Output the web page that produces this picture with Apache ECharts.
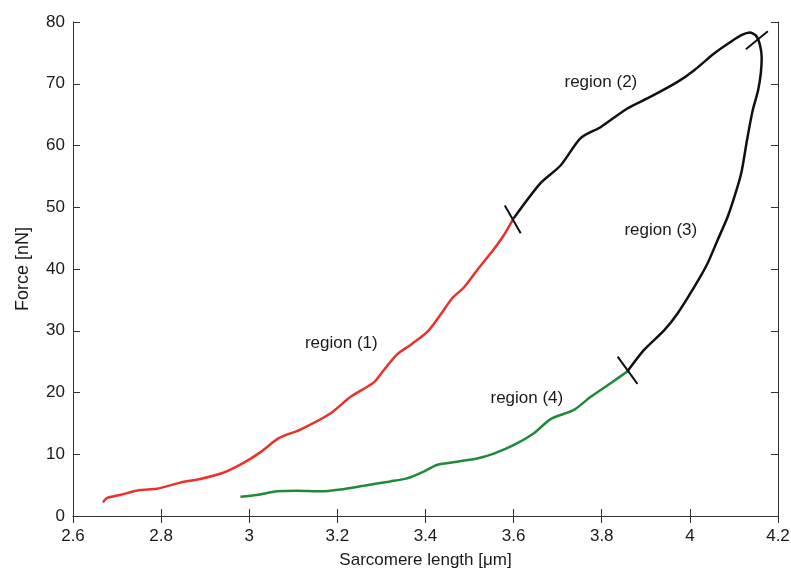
<!DOCTYPE html>
<html>
<head>
<meta charset="utf-8">
<script src="https://cdn.jsdelivr.net/npm/echarts@6/dist/echarts.min.js"></script>
<style>
  html, body { margin: 0; padding: 0; background: #fff; }
  #chart { width: 791px; height: 572px; }
</style>
</head>
<body>
<div id="chart"></div>
<script>
// region (1): loading, red
const region1 = [
  [2.668, 2.2], [2.677, 2.9], [2.707, 3.4], [2.752, 4.2], [2.79, 4.4],
  [2.843, 5.4], [2.889, 6.0], [2.941, 7.0], [2.987, 8.6], [3.025, 10.3],
  [3.067, 12.6], [3.116, 14.0], [3.184, 16.6], [3.23, 19.3], [3.282, 21.6],
  [3.305, 23.6], [3.336, 26.2], [3.366, 27.7], [3.404, 29.8], [3.434, 32.6],
  [3.461, 35.3], [3.487, 37.0], [3.517, 39.8], [3.555, 43.2], [3.578, 45.5],
  [3.6, 48.2]
]
// region (2) + (3): black loop
const region23 = [
  [3.6, 48.2], [3.661, 53.9], [3.707, 56.8], [3.752, 61.2], [3.798, 63.0],
  [3.858, 66.0], [3.911, 67.9], [3.972, 70.3], [4.01, 72.2], [4.055, 74.9],
  [4.093, 76.8], [4.118, 77.9], [4.136, 78.3], [4.15, 77.8], [4.159, 76.3],
  [4.163, 74.2], [4.161, 71.7], [4.155, 69.0], [4.142, 65.5], [4.13, 61.0],
  [4.118, 56.0], [4.108, 53.3], [4.086, 48.5], [4.063, 44.7], [4.04, 40.9],
  [4.01, 37.1], [3.972, 32.8], [3.942, 30.1], [3.896, 26.9], [3.858, 23.4]
]
// region (4): unloading, green
const region4 = [
  [2.98, 3.1], [3.017, 3.4], [3.063, 4.0], [3.108, 4.1], [3.161, 4.0],
  [3.207, 4.3], [3.26, 4.9], [3.32, 5.6], [3.358, 6.1], [3.396, 7.2],
  [3.427, 8.3], [3.472, 8.8], [3.517, 9.3], [3.555, 10.1], [3.601, 11.5],
  [3.646, 13.4], [3.684, 15.7], [3.737, 17.2], [3.775, 19.3], [3.82, 21.5],
  [3.858, 23.4]
]
// short cross marks at region borders
const crossMarks = [
  [[3.58, 50.3], [3.616, 45.8]],
  [[4.127, 75.6], [4.177, 78.5]],
  [[3.836, 25.8], [3.881, 21.4]]
]
const regionLabels = [
  { name: "region (1)", value: [3.209, 28.0] },
  { name: "region (2)", value: [3.798, 70.3] },
  { name: "region (3)", value: [3.934, 46.3] },
  { name: "region (4)", value: [3.63, 19.1] }
]

const fontFamily = "'Liberation Sans', Arial, sans-serif"
const axisColor = "#333"
const textColor = "#1a1a1a"

const frameAxis = (extra) => Object.assign({
  type: "value",
  axisLine: { show: true, lineStyle: { color: axisColor, width: 1 } },
  axisTick: { show: true, inside: true, length: 7, lineStyle: { color: axisColor } },
  splitLine: { show: false },
  axisLabel: { show: false }
}, extra)

const curve = (data, color) => ({
  type: "line", data: data, showSymbol: false, symbol: "none", smooth: 0.25,
  lineStyle: { color: color, width: 2.5 }, z: 3
})

const series = [
  curve(region1, "#e8322b"),
  curve(region23, "#111"),
  curve(region4, "#1f8a3a"),
  {
    type: "scatter", data: regionLabels, symbolSize: 0, silent: true,
    itemStyle: { opacity: 1, color: "transparent" },
    label: {
      show: true, position: "inside", formatter: "{b}",
      color: textColor, fontSize: 17, fontFamily: fontFamily
    }, z: 5
  }
]
crossMarks.forEach((seg) => {
  series.push({
    type: "line", data: seg, showSymbol: false, symbol: "none",
    lineStyle: { color: "#111", width: 2 }, z: 4
  })
})

const chart = echarts.init(document.getElementById("chart"))
chart.setOption({
  animation: false,
  backgroundColor: "#fff",
  grid: { left: 73, right: 13, top: 22, bottom: 56, containLabel: false, outerBoundsMode: "none" },
  xAxis: [
    frameAxis({
      position: "bottom", min: 2.6, max: 4.2, interval: 0.2,
      name: "Sarcomere length [μm]", nameLocation: "middle", nameGap: 36,
      nameTextStyle: { color: textColor, fontSize: 17, fontFamily: fontFamily },
      axisLabel: {
        show: true, color: textColor, fontSize: 17, fontFamily: fontFamily, margin: 12,
        formatter: (v) => String(Math.round(v * 10) / 10)
      }
    }),
    frameAxis({ position: "top", min: 2.6, max: 4.2, interval: 0.2 })
  ],
  yAxis: [
    frameAxis({
      position: "left", min: 0, max: 80, interval: 10,
      name: "Force [nN]", nameLocation: "middle", nameGap: 41,
      nameTextStyle: { color: textColor, fontSize: 18, fontFamily: fontFamily },
      axisLabel: { show: true, color: textColor, fontSize: 17, fontFamily: fontFamily, margin: 8 }
    }),
    frameAxis({ position: "right", min: 0, max: 80, interval: 10 })
  ],
  series: series
})
</script>
</body>
</html>
